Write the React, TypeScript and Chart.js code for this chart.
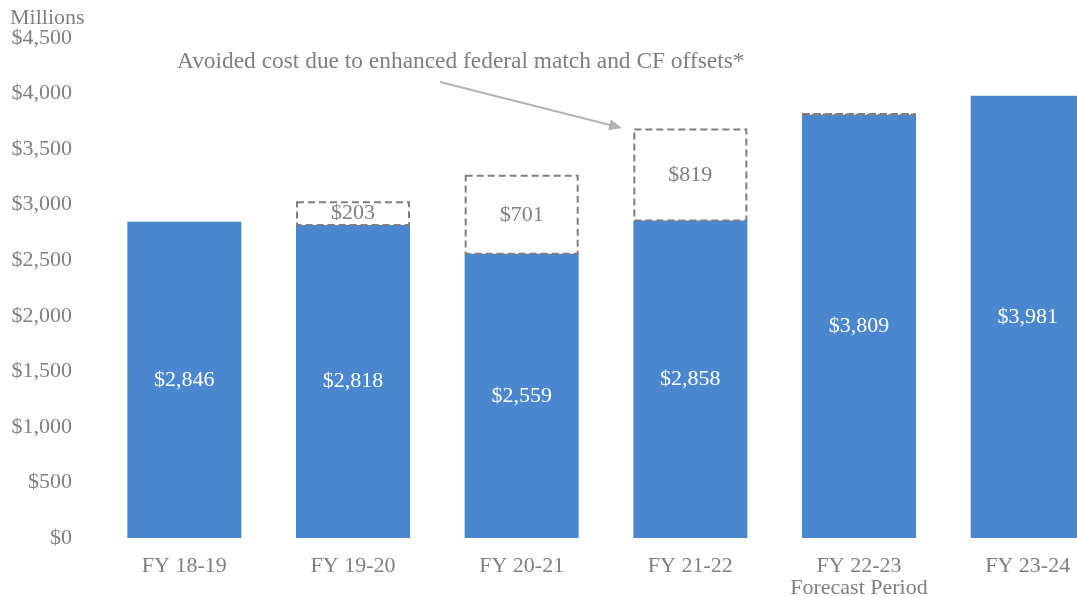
import React, { useEffect, useRef } from "react";
import { Chart, registerables } from "chart.js";

Chart.register(...registerables);

const categories: (string | string[])[] = ["FY 18-19", "FY 19-20", "FY 20-21", "FY 21-22", ["FY 22-23", "Forecast Period"], "FY 23-24"];
const baseCost = [2846, 2818, 2559, 2858, 3809, 3981];
const avoidedCost = [0, 203, 701, 819, 6, 0];
const yTicks = [0, 500, 1000, 1500, 2000, 2500, 3000, 3500, 4000, 4500];

const FONT = "'Liberation Serif', 'Times New Roman', serif";
const GRAY = "#7f7f7f";
const BLUE = "#4A87CF";

const fmt = (v: number) => "$" + v.toLocaleString("en-US");

const overlayPlugin = {
  id: "overlay",
  afterDatasetsDraw(chart: any) {
    const ctx = chart.ctx;
    ctx.save();
    // dashed boxes for avoided cost
    const meta1 = chart.getDatasetMeta(1);
    meta1.data.forEach((el: any, i: number) => {
      const v = avoidedCost[i];
      if (!v) return;
      const p = el.getProps(["x", "y", "base", "width"], true);
      const left = p.x - p.width / 2;
      ctx.setLineDash([7, 4]);
      ctx.strokeStyle = GRAY;
      ctx.lineWidth = 2;
      ctx.strokeRect(left + 1, p.y, p.width - 2, p.base - p.y);
      ctx.setLineDash([]);
      if (v >= 100) {
        ctx.fillStyle = GRAY;
        ctx.font = `22px ${FONT}`;
        ctx.textAlign = "center";
        ctx.textBaseline = "middle";
        ctx.fillText(fmt(v), p.x, (p.y + p.base) / 2);
      }
    });
    // labels on base bars
    const meta0 = chart.getDatasetMeta(0);
    meta0.data.forEach((el: any, i: number) => {
      const p = el.getProps(["x", "y", "base"], true);
      ctx.fillStyle = "#ffffff";
      ctx.font = `22px ${FONT}`;
      ctx.textAlign = "center";
      ctx.textBaseline = "middle";
      ctx.fillText(fmt(baseCost[i]), p.x, (p.y + p.base) / 2);
    });
    // annotation
    ctx.fillStyle = GRAY;
    ctx.font = `23.4px ${FONT}`;
    ctx.textAlign = "left";
    ctx.textBaseline = "middle";
    ctx.fillText("Avoided cost due to enhanced federal match and CF offsets*", 177, 62);
    ctx.font = `22px ${FONT}`;
    ctx.fillText("Millions", 10, 18);
    // arrow
    const x1 = 440, y1 = 82, x2 = 622, y2 = 128;
    ctx.strokeStyle = "#b3b3b3";
    ctx.fillStyle = "#b3b3b3";
    ctx.lineWidth = 2;
    const ang = Math.atan2(y2 - y1, x2 - x1);
    const hl = 14;
    ctx.beginPath();
    ctx.moveTo(x1, y1);
    ctx.lineTo(x2 - Math.cos(ang) * hl * 0.8, y2 - Math.sin(ang) * hl * 0.8);
    ctx.stroke();
    ctx.beginPath();
    ctx.moveTo(x2, y2);
    ctx.lineTo(x2 - hl * Math.cos(ang - 0.4), y2 - hl * Math.sin(ang - 0.4));
    ctx.lineTo(x2 - hl * Math.cos(ang + 0.4), y2 - hl * Math.sin(ang + 0.4));
    ctx.closePath();
    ctx.fill();
    ctx.restore();
  },
};

export default function App() {
  const ref = useRef<HTMLCanvasElement>(null);
  useEffect(() => {
    if (!ref.current) return;
    const chart = new Chart(ref.current, {
      type: "bar",
      data: {
        labels: categories as any,
        datasets: [
          { data: baseCost, backgroundColor: BLUE, borderWidth: 0, barPercentage: 0.676, categoryPercentage: 1 },
          { data: avoidedCost, backgroundColor: "rgba(0,0,0,0)", borderWidth: 0, barPercentage: 0.676, categoryPercentage: 1 },
        ],
      },
      options: {
        responsive: false,
        animation: false,
        layout: { padding: { top: 38, right: 8, bottom: 0, left: 0 } },
        plugins: { legend: { display: false }, tooltip: { enabled: false } },
        scales: {
          x: {
            stacked: true,
            grid: { display: false, drawTicks: false },
            border: { display: false },
            ticks: { color: GRAY, font: { family: FONT, size: 22, lineHeight: 1.0 }, padding: 17, maxRotation: 0, autoSkip: false },
            afterFit: (s: any) => { s.height = 59; s.paddingLeft = 0; s.paddingRight = 0; },
          },
          y: {
            stacked: true,
            min: 0,
            max: 4500,
            afterBuildTicks: (s: any) => { s.ticks = yTicks.map((v) => ({ value: v })); },
            grid: { display: false, drawTicks: false },
            border: { display: false },
            ticks: { color: GRAY, font: { family: FONT, size: 22 }, padding: 28, callback: (v: any) => fmt(Number(v)) },
            afterFit: (s: any) => { s.width = 100; s.paddingTop = 0; s.paddingBottom = 0; },
          },
        },
      },
      plugins: [overlayPlugin],
    });
    return () => chart.destroy();
  }, []);
  return (
    <div style={{ position: "absolute", left: 0, top: 0, width: 1077, height: 597, overflow: "hidden", background: "#fff" }}>
      <canvas ref={ref} width={1120} height={597} style={{ display: "block" }} />
    </div>
  );
}
